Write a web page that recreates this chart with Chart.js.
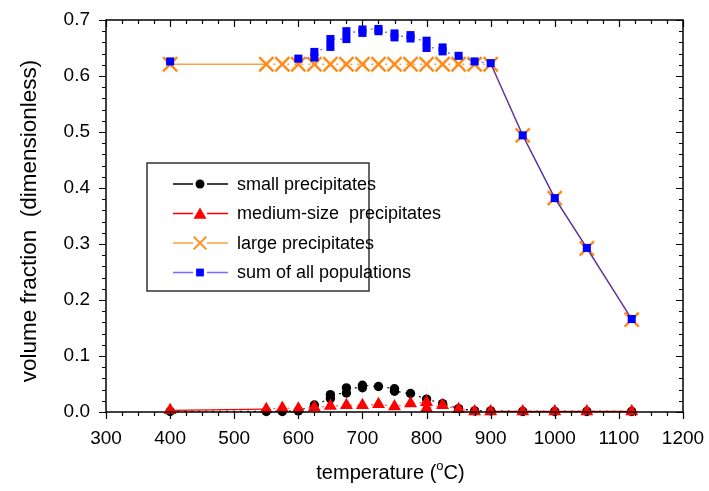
<!DOCTYPE html>
<html>
<head>
<meta charset="utf-8">
<script src="https://cdn.jsdelivr.net/npm/chart.js@4"></script>
<style>
  body { margin: 0; background: #fff; }
</style>
</head>
<body>
<canvas id="precipChart" width="709" height="491"></canvas>
<script>
/* --- Data --- */

const smallTemps = [400, 550, 575, 600, 625, 650, 650, 675, 675, 700, 700, 725, 750, 750, 775, 800, 825, 850, 875, 900, 950, 1000, 1050, 1120]
const smallVals = [0.001, 0.001, 0.001, 0.002, 0.0125, 0.024, 0.031, 0.034, 0.043, 0.0434, 0.0477, 0.0455, 0.0416, 0.037, 0.033, 0.023, 0.015, 0.006, 0.002, 0.002, 0.001, 0.001, 0.001, 0.001]

const mediumTemps = [400, 550, 575, 600, 625, 650, 675, 700, 725, 750, 775, 800, 800, 825, 850, 875, 900, 950, 1000, 1050, 1120]
const mediumVals = [0.003, 0.005, 0.007, 0.006, 0.008, 0.0105, 0.012, 0.012, 0.014, 0.0096, 0.0154, 0.0175, 0.0068, 0.012, 0.005, 0.001, 0.001, 0.001, 0.001, 0.001, 0.001]

const largeTemps = [400, 550, 575, 600, 625, 650, 675, 700, 725, 750, 775, 800, 825, 850, 875, 900, 950, 1000, 1050, 1120]
const largeVals = [0.621, 0.621, 0.621, 0.621, 0.621, 0.621, 0.621, 0.621, 0.621, 0.621, 0.621, 0.621, 0.621, 0.621, 0.621, 0.621, 0.494, 0.382, 0.292, 0.165]

const sumTemps = [400, 600, 625, 625, 650, 650, 675, 675, 700, 700, 725, 725, 750, 750, 775, 775, 800, 800, 825, 825, 850, 875, 900, 950, 1000, 1050, 1120]
const sumVals = [0.626, 0.631, 0.633, 0.643, 0.652, 0.666, 0.666, 0.680, 0.677, 0.683, 0.684, 0.680, 0.676, 0.669, 0.673, 0.667, 0.663, 0.650, 0.651, 0.644, 0.636, 0.626, 0.623, 0.494, 0.382, 0.293, 0.166]

const xTicks = [300, 400, 500, 600, 700, 800, 900, 1000, 1100, 1200]
const yTicks = [0.0, 0.1, 0.2, 0.3, 0.4, 0.5, 0.6, 0.7]

const seriesNames = ['small precipitates', 'medium-size  precipitates', 'large precipitates', 'sum of all populations']

/* --- Helpers --- */

const FONT = '"Liberation Sans", Arial, sans-serif'
const toPoints = (xs, ys) => xs.map((x, i) => ({ x: x, y: ys[i] }))
const inMiddle = ctx => ctx.p0.parsed.x >= 550 && ctx.p1.parsed.x <= 900
// keep tick-label overhang from pushing the plot area around
const noPad = s => { s.paddingTop = 0; s.paddingBottom = 0; s.paddingLeft = 0; s.paddingRight = 0 }

/* --- Plugins --- */

const frameAndTicks = {
  id: 'frameAndTicks',
  afterDraw(chart) {
    const { ctx, chartArea: a, scales } = chart
    const xs = scales.x, ys = scales.y
    ctx.save()
    ctx.strokeStyle = '#000'
    ctx.lineWidth = 1.5
    ctx.strokeRect(a.left, a.top, a.right - a.left, a.bottom - a.top)
    ctx.lineWidth = 1.2
    ctx.beginPath()
    for (let v = xTicks[0]; v <= xTicks[xTicks.length - 1]; v += 25) {
      const px = Math.round(xs.getPixelForValue(v)) + 0.5
      const len = v % 100 === 0 ? 7 : 4
      ctx.moveTo(px, a.bottom); ctx.lineTo(px, a.bottom + len)
      ctx.moveTo(px, a.top); ctx.lineTo(px, a.top + len)
    }
    for (let i = 0; i <= 35; i++) {
      const py = Math.round(ys.getPixelForValue(i * 0.02)) + 0.5
      const len = i % 5 === 0 ? 7 : 4
      ctx.moveTo(a.left - len, py); ctx.lineTo(a.left, py)
      ctx.moveTo(a.right - len, py); ctx.lineTo(a.right, py)
    }
    ctx.stroke()

    // axis titles
    ctx.fillStyle = '#000'
    ctx.textBaseline = 'alphabetic'
    const big = '20px ' + FONT, sup = '13px ' + FONT
    ctx.font = big
    const w1 = ctx.measureText('temperature (').width
    const w3 = ctx.measureText('C)').width
    ctx.font = sup
    const w2 = ctx.measureText('o').width
    const tx = (a.left + a.right) / 2 - (w1 + w2 + w3) / 2 - 4
    const ty = 479
    ctx.font = big
    ctx.fillText('temperature (', tx, ty)
    ctx.font = sup
    ctx.fillText('o', tx + w1, ty - 9)
    ctx.font = big
    ctx.fillText('C)', tx + w1 + w2, ty)

    ctx.translate(30, 221)
    ctx.rotate(-Math.PI / 2)
    ctx.font = '22.5px ' + FONT
    ctx.textAlign = 'center'
    ctx.textBaseline = 'middle'
    ctx.fillText('volume fraction  (dimensionless)', 0, 0)
    ctx.restore()
  }
}

const boxLegend = {
  id: 'boxLegend',
  afterDraw(chart) {
    const ctx = chart.ctx
    const left = 147, top = 163, right = 369, bottom = 291
    ctx.save()
    ctx.fillStyle = '#fff'
    ctx.fillRect(left, top, right - left, bottom - top)
    ctx.strokeStyle = '#333'
    ctx.lineWidth = 1.5
    ctx.strokeRect(left, top, right - left, bottom - top)
    const rows = [
      { line: '#000', fill: '#000', stroke: '#000', style: 'circle', r: 4.5, bw: 0 },
      { line: '#ff0000', fill: '#ff0000', stroke: '#ff0000', style: 'triangle', r: 7.5, bw: 0 },
      { line: '#ffa040', fill: '#ff8c1a', stroke: '#ff8c1a', style: 'crossRot', r: 9, bw: 2 },
      { line: '#6f6fff', fill: '#0000ff', stroke: '#0000ff', style: 'rect', r: 5.5, bw: 0 }
    ]
    rows.forEach((row, i) => {
      const y = 184 + i * 29.5
      ctx.strokeStyle = row.line
      ctx.lineWidth = 1.3
      ctx.beginPath()
      ctx.moveTo(173, y); ctx.lineTo(193, y)
      ctx.moveTo(207, y); ctx.lineTo(228, y)
      ctx.stroke()
      ctx.fillStyle = row.fill
      ctx.strokeStyle = row.stroke
      ctx.lineWidth = row.bw
      Chart.helpers.drawPoint(ctx, { pointStyle: row.style, radius: row.r, rotation: 0, borderWidth: row.bw }, 200, y + (row.style === 'triangle' ? 1.5 : 0))
      ctx.fillStyle = '#000'
      ctx.font = '18px ' + FONT
      ctx.textBaseline = 'middle'
      ctx.fillText(seriesNames[i], 237, y + 1)
    })
    ctx.restore()
  }
}

/* --- Chart --- */

const data = {
  datasets: [
    {
      label: seriesNames[3],
      data: toPoints(sumTemps, sumVals),
      order: 0,
      borderColor: '#3a30d0',
      borderWidth: 1.2,
      pointStyle: 'rect',
      pointRadius: 5.7,
      pointBackgroundColor: '#0000ff',
      pointBorderWidth: 0,
      clip: false,
      segment: {
        borderColor: ctx => ctx.p0.parsed.x < 600 ? 'rgba(0,0,0,0)' : (inMiddle(ctx) ? '#6060e0' : undefined),
        borderDash: ctx => inMiddle(ctx) ? [2, 5] : undefined
      }
    },
    {
      label: seriesNames[2],
      data: toPoints(largeTemps, largeVals),
      order: 1,
      borderColor: '#ffa040',
      borderWidth: 1.5,
      pointStyle: 'crossRot',
      pointRadius: 10,
      pointBorderColor: '#ff8c1a',
      pointBorderWidth: 2.5,
      clip: false,
      segment: {
        borderDash: ctx => inMiddle(ctx) ? [2, 5] : undefined
      }
    },
    {
      label: seriesNames[1],
      data: toPoints(mediumTemps, mediumVals),
      order: 2,
      borderColor: '#ff0000',
      borderWidth: 1.2,
      pointStyle: 'triangle',
      pointRadius: 7.5,
      pointBackgroundColor: '#ff0000',
      pointBorderWidth: 0,
      clip: false,
      segment: {
        borderColor: ctx => inMiddle(ctx) ? '#ff6060' : undefined,
        borderDash: ctx => inMiddle(ctx) ? [2, 5] : undefined
      }
    },
    {
      label: seriesNames[0],
      data: toPoints(smallTemps, smallVals),
      order: 3,
      borderColor: '#000',
      borderWidth: 1.2,
      borderDash: [2, 5],
      pointStyle: 'circle',
      pointRadius: 4.7,
      pointBackgroundColor: '#000',
      pointBorderWidth: 0,
      clip: false
    }
  ]
}

const config = {
  type: 'line',
  data: data,
  options: {
    responsive: false,
    animation: false,
    events: [],
    layout: { autoPadding: false, padding: { left: 0, right: 26, top: 20, bottom: 0 } },
    plugins: { legend: { display: false }, tooltip: { enabled: false } },
    scales: {
      x: {
        type: 'linear',
        min: xTicks[0],
        max: xTicks[xTicks.length - 1],
        afterFit: s => { s.height = 79; noPad(s) },
        afterBuildTicks: s => { s.ticks = xTicks.map(v => ({ value: v })) },
        grid: { display: false, drawTicks: false },
        border: { display: false },
        ticks: { padding: 15, color: '#000', font: { family: FONT, size: 19 }, maxRotation: 0, callback: v => String(v) }
      },
      y: {
        type: 'linear',
        min: yTicks[0],
        max: yTicks[yTicks.length - 1],
        afterFit: s => { s.width = 106; noPad(s) },
        afterBuildTicks: s => { s.ticks = yTicks.map(v => ({ value: v })) },
        grid: { display: false, drawTicks: false },
        border: { display: false },
        ticks: { padding: 16, color: '#000', font: { family: FONT, size: 19 }, callback: v => v.toFixed(1) }
      }
    }
  },
  plugins: [frameAndTicks, boxLegend]
}

const precipChart = new Chart(
  document.getElementById('precipChart').getContext('2d'),
  config
)
</script>
</body>
</html>
